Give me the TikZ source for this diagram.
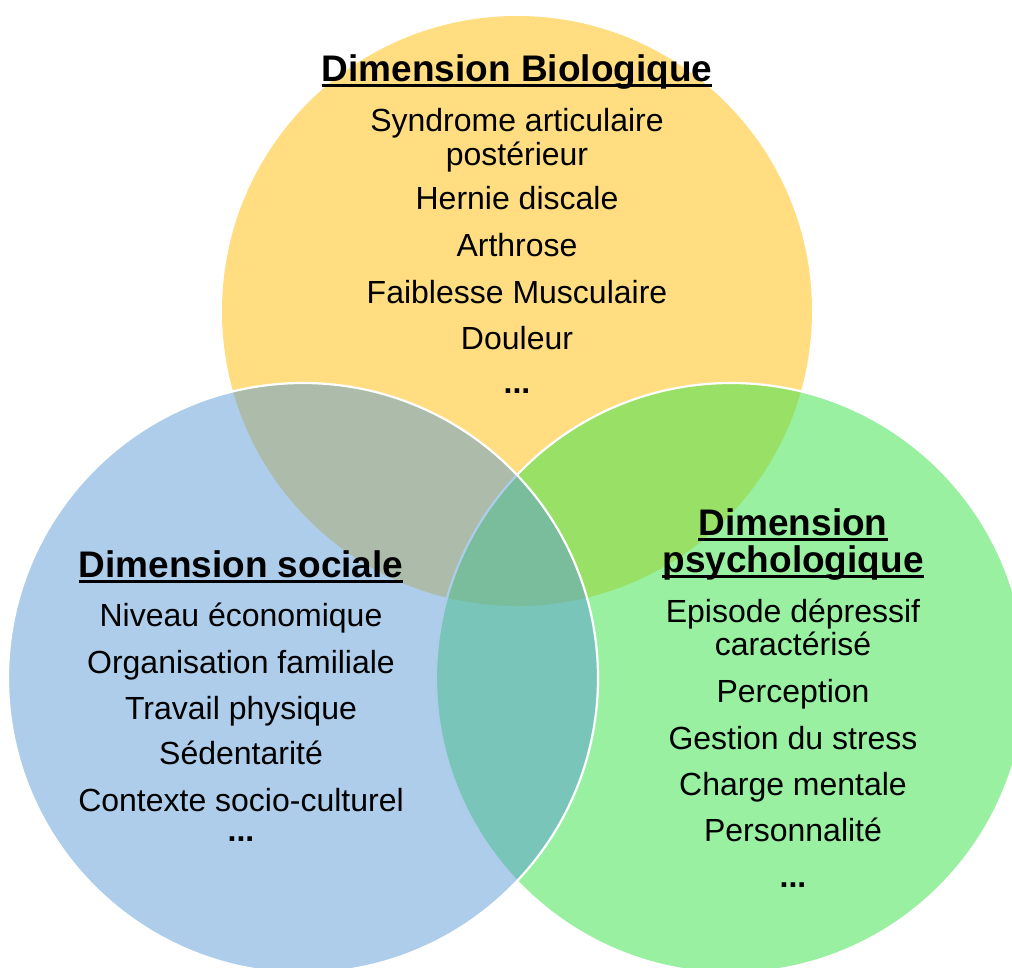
\documentclass[tikz,border=0pt]{standalone}
\usepackage{fontspec}
\setmainfont{Liberation Sans}
\definecolor{yel}{RGB}{255,221,128}
\definecolor{grn}{RGB}{68,227,82}
\definecolor{blu}{RGB}{91,155,213}
\newcommand\ulttl[1]{\setbox0\hbox{#1}\rlap{\rule[-5.5pt]{\wd0}{2.6pt}}\box0}
\tikzset{
  venn/.style={circle, inner sep=0pt, minimum size=590pt, draw=white, line width=2.2pt},
  item/.style={anchor=base, inner sep=0pt, font=\fontsize{32}{38}\selectfont},
  ttl/.style={anchor=base, inner sep=0pt, font=\fontsize{37}{42}\selectfont\bfseries},
}
\begin{document}
\begin{tikzpicture}[x=1pt,y=-1pt]
\useasboundingbox (0,0) rectangle (1012,967);
\node[venn, fill=yel, draw=none] (bio) at (517,311) {};
\node[venn, fill=grn, fill opacity=0.55] (psy) at (731,678) {};
\node[venn, fill=blu, fill opacity=0.5] (soc) at (303,678) {};
% Biologique
\node[ttl] (b0) at (517,81) {\ulttl{Dimension Biologique}};
\node[item] (b1) at (517,131) {Syndrome articulaire};
\node[item] (b2) at (517,165) {postérieur};
\node[item] (b3) at (517,209) {Hernie discale};
\node[item] (b4) at (517,256) {Arthrose};
\node[item] (b5) at (517,303) {Faiblesse Musculaire};
\node[item] (b6) at (517,349) {Douleur};
\node[item] (b7) at (517,393) {\bfseries ...};
% Sociale
\node[ttl] (s0) at (241,577) {\ulttl{Dimension sociale}};
\node[item] (s1) at (241,626) {Niveau économique};
\node[item] (s2) at (241,673) {Organisation familiale};
\node[item] (s3) at (241,719) {Travail physique};
\node[item] (s4) at (241,764) {Sédentarité};
\node[item] (s5) at (241,811) {Contexte socio-culturel};
\node[item] (s6) at (241,841) {\bfseries ...};
% Psychologique
\node[ttl] (p0) at (793,535) {\ulttl{Dimension}};
\node[ttl] (p1) at (793,572) {\ulttl{psychologique}};
\node[item] (p2) at (793,622) {Episode dépressif};
\node[item] (p3) at (793,655) {caractérisé};
\node[item] (p4) at (793,702) {Perception};
\node[item] (p5) at (793,749) {Gestion du stress};
\node[item] (p6) at (793,795) {Charge mentale};
\node[item] (p7) at (793,841) {Personnalité};
\node[item] (p8) at (793,887) {\bfseries ...};
\end{tikzpicture}
\end{document}
